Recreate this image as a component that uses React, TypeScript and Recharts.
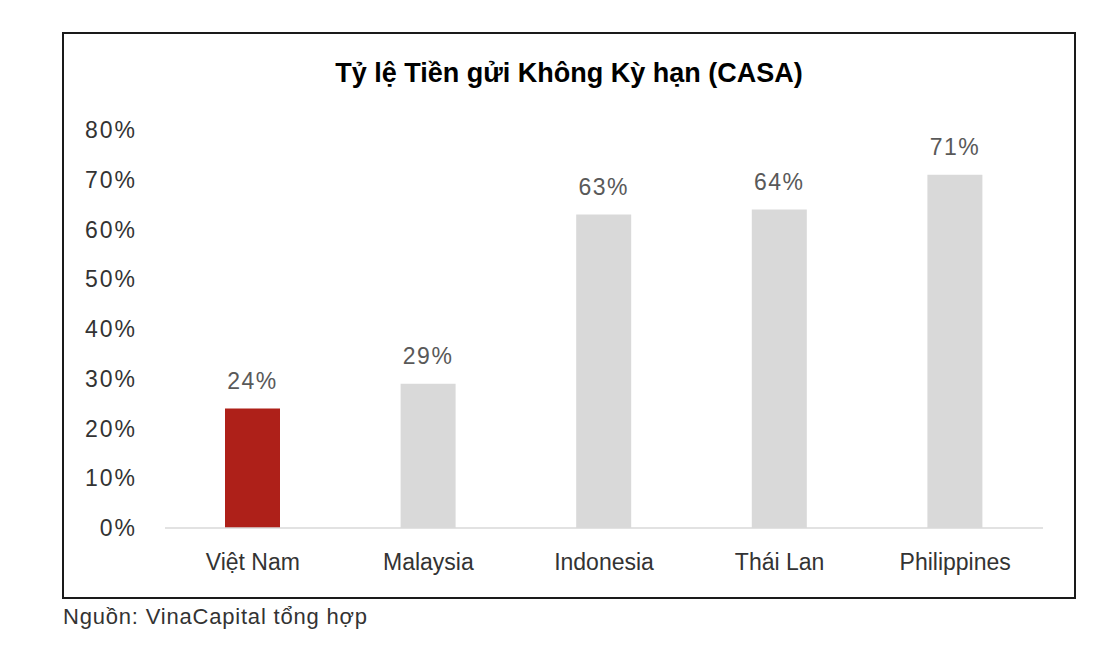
import React from "react";
import { BarChart, Bar, XAxis, YAxis, Cell, LabelList } from "recharts";

const countries = ["Việt Nam", "Malaysia", "Indonesia", "Thái Lan", "Philippines"];
const casaRatio = [24, 29, 63, 64, 71];
const barColors = ["#ae2019", "#d9d9d9", "#d9d9d9", "#d9d9d9", "#d9d9d9"];
const yTicks = [0, 10, 20, 30, 40, 50, 60, 70, 80];

const data = countries.map((name, i) => ({ name, value: casaRatio[i] }));

const FONT = "'Liberation Sans', Arial, sans-serif";

export default function App() {
  return (
    <div style={{ position: "relative", width: 1116, height: 658, margin: -8, background: "#fff", fontFamily: FONT }}>
      <div
        style={{
          position: "absolute",
          left: 62,
          top: 32,
          width: 1010,
          height: 563,
          border: "2px solid #1a1a1a",
        }}
      />
      <div
        style={{
          position: "absolute",
          left: 63,
          width: 1012,
          top: 58,
          textAlign: "center",
          fontSize: 27,
          fontWeight: 700,
          color: "#000",
        }}
      >
        Tỷ lệ Tiền gửi Không Kỳ hạn (CASA)
      </div>
      <div style={{ position: "absolute", left: 0, top: 0 }}>
        <BarChart
          width={1116}
          height={658}
          data={data}
          margin={{ top: 130, right: 73, bottom: 100, left: 65 }}
        >
          <XAxis
            dataKey="name"
            axisLine={{ stroke: "#d9d9d9", strokeWidth: 1.5 }}
            tickLine={false}
            tickMargin={20}
            tick={{ fontSize: 23, fill: "#333", fontFamily: FONT }}
            interval={0}
          />
          <YAxis
            width={100}
            domain={[0, 80]}
            ticks={yTicks}
            axisLine={false}
            tickLine={false}
            tickSize={0}
            tickMargin={28}
            tickFormatter={(v) => `${v}%`}
            tick={{ fontSize: 23, fill: "#333", fontFamily: FONT, letterSpacing: 2 }}
          />
          <Bar dataKey="value" barSize={55} isAnimationActive={false}>
            {data.map((d, i) => (
              <Cell key={d.name} fill={barColors[i]} />
            ))}
            <LabelList
              dataKey="value"
              position="top"
              offset={20}
              formatter={(v) => `${v}%`}
              style={{ fontSize: 23, fill: "#595959", fontFamily: FONT, letterSpacing: 1.5 }}
            />
          </Bar>
        </BarChart>
      </div>
      <div style={{ position: "absolute", left: 63, top: 604, fontSize: 22, color: "#333", letterSpacing: 0.8 }}>
        Nguồn: VinaCapital tổng hợp
      </div>
    </div>
  );
}
